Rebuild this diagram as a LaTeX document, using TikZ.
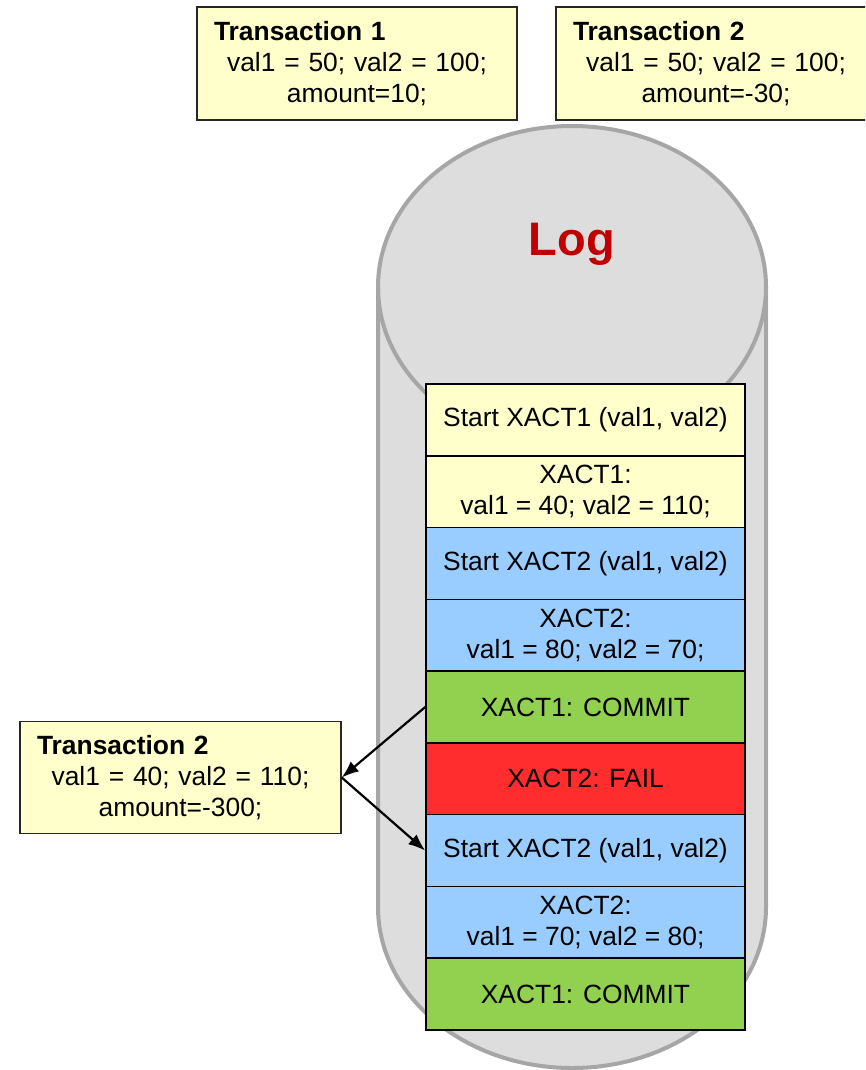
\documentclass[tikz,border=0pt]{standalone}
\usepackage{fontspec}
\setmainfont{Liberation Sans}
\usetikzlibrary{arrows.meta}
\definecolor{boxyellow}{HTML}{FFFFCC}
\definecolor{rowblue}{HTML}{99CCFF}
\definecolor{rowgreen}{HTML}{92D050}
\definecolor{rowred}{HTML}{FF2D2D}
\definecolor{cylfill}{HTML}{DDDDDD}
\definecolor{cylline}{HTML}{A6A6A6}
\definecolor{logred}{HTML}{C00000}
\begin{document}
\begin{tikzpicture}[x=1pt,y=-1pt,
  txt/.style={font=\fontsize{26.4}{31}\selectfont},
  trans/.style={draw=black!85, line width=1.5pt, fill=boxyellow, text width=286pt,
    inner xsep=17pt, inner ysep=0pt, minimum height=113pt, align=center, txt},
  logrow/.style={draw=black, line width=1.5pt, minimum width=319pt, minimum height=71.8pt,
    inner sep=0pt, align=center, txt},
  arr/.style={-{Latex[length=17pt,width=13pt]}, line width=2.2pt},
  cylstroke/.style={draw=cylline, line width=4pt}]
\useasboundingbox (0,0) rectangle (865,1070);
\clip (0,0) rectangle (865,1070);
% top transaction boxes
\node[trans] (t1) at (357,63.5) {\textbf{Transaction 1}\hfill\null\\ val1 = 50; val2 = 100;\\ amount=10;};
\node[trans] (t2) at (716,63.5) {\textbf{Transaction 2}\hfill\null\\ val1 = 50; val2 = 100;\\ amount=-30;};
% cylinder
\fill[cylfill] (378,287) rectangle (766,907);
\fill[cylfill] (572,287) ellipse[x radius=194pt, y radius=161pt];
\fill[cylfill] (572,907) ellipse[x radius=194pt, y radius=161pt];
\draw[cylstroke] (378,287) -- (378,907) arc[start angle=180, end angle=360, x radius=194pt, y radius=161pt] -- (766,287);
\draw[cylstroke] (572,287) ellipse[x radius=194pt, y radius=161pt];
\node[anchor=base, text=logred, font=\fontsize{47}{50}\selectfont\bfseries] (logtitle) at (572,255) {Log};
% log rows
\node[logrow, fill=boxyellow] (r1) at (585.5,419.9) {Start XACT1 (val1, val2)};
\node[logrow, fill=boxyellow] (r2) at (585.5,491.7) {XACT1:\\ val1 = 40; val2 = 110;};
\node[logrow, fill=rowblue] (r3) at (585.5,563.4) {Start XACT2 (val1, val2)};
\node[logrow, fill=rowblue] (r4) at (585.5,635.2) {XACT2:\\ val1 = 80; val2 = 70;};
\node[logrow, fill=rowgreen] (r5) at (585.5,707.0) {XACT1: COMMIT};
\node[logrow, fill=rowred] (r6) at (585.5,778.8) {XACT2: FAIL};
\node[logrow, fill=rowblue] (r7) at (585.5,850.6) {Start XACT2 (val1, val2)};
\node[logrow, fill=rowblue] (r8) at (585.5,922.4) {XACT2:\\ val1 = 70; val2 = 80;};
\node[logrow, fill=rowgreen] (r9) at (585.5,994.1) {XACT1: COMMIT};
% left transaction box
\node[trans, text width=287pt, minimum height=112pt] (t3) at (180.5,777.5) {\textbf{Transaction 2}\hfill\null\\ val1 = 40; val2 = 110;\\ amount=-300;};
% arrows
\draw[arr] (r5.west) -- (t3.east);
\draw[arr] (t3.east) -- (r7.west);
\end{tikzpicture}
\end{document}
